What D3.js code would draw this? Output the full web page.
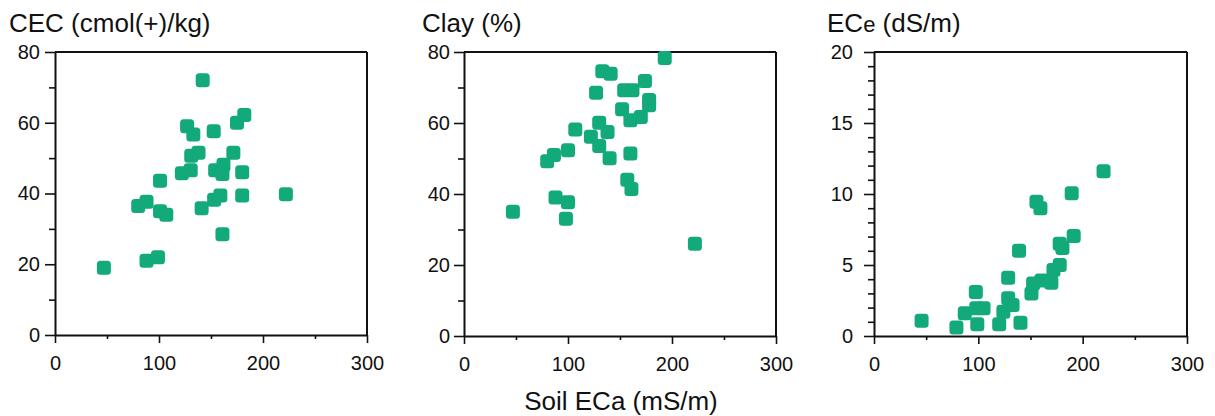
<!DOCTYPE html>
<html>
<head>
<meta charset="utf-8">
<script src="https://cdn.jsdelivr.net/npm/d3@7"></script>
<style>
  body { margin: 0; background: #fff; }
  text { font-family: "Liberation Sans", Arial, sans-serif; fill: #111; }
</style>
</head>
<body>
<svg id="chart"></svg>
<script>
// values
var cecEca = [47, 88, 99, 80, 88, 101, 107, 101, 122, 130.5, 131, 138, 127, 133, 142, 141, 153, 159, 152.6, 154, 162, 161, 171.5, 175, 182, 180, 180, 161, 222];
var cecValues = [19, 21, 22, 36.5, 37.7, 35, 34, 43.6, 45.7, 46.6, 50.7, 51.5, 59, 56.7, 72, 35.8, 38.2, 39.4, 57.6, 46.6, 48.1, 45.5, 51.5, 60, 62.2, 46, 39.4, 28.5, 39.8];

var clayEca = [47, 88, 100, 98, 80, 86.5, 100, 107, 122, 130, 130, 138, 140, 127, 133, 141, 152, 154, 162, 160, 170, 174, 178, 178, 193, 160, 157, 161, 222];
var clayValues = [35, 39, 37.7, 33, 49.2, 51, 52.3, 58.2, 56.1, 53.5, 60.1, 57.5, 50.1, 68.5, 74.6, 73.9, 63.9, 69.2, 69.2, 60.8, 61.7, 71.8, 66.5, 65, 78.3, 51.4, 44, 41.4, 26];

var eceEca = [45.6, 79, 87, 97.6, 98, 105, 99, 120, 124, 128.6, 132.8, 128.6, 139, 140.4, 150.9, 152.5, 160.5, 170, 172, 178, 155.7, 159.5, 178, 180.6, 191.4, 189.5, 220];
var eceValues = [1.08, 0.6, 1.6, 3.1, 1.95, 1.95, 0.82, 0.82, 1.7, 2.65, 2.18, 4.1, 6, 0.93, 3.0, 3.7, 3.9, 3.75, 4.65, 5, 9.46, 9.0, 6.5, 6.2, 7.05, 10.05, 11.6];

var xTicks = [0, 100, 200, 300];
var xMinor = [50, 150, 250];
var pctTicks = [0, 20, 40, 60, 80];
var pctMinor = [10, 30, 50, 70];
var eceTicks = [0, 5, 10, 15, 20];
var eceMinor = [1, 2, 3, 4, 6, 7, 8, 9, 11, 12, 13, 14, 16, 17, 18, 19];

var W = 1215, H = 416;
var green = "#12a97b";
var mark = 14;

var svg = d3.select("#chart").attr("width", W).attr("height", H);

function panel(opt) {
    var g = svg.append("g");
    var x = d3.scaleLinear().domain([0, 300]).range([opt.left, opt.right]);
    var y = d3.scaleLinear().domain([0, opt.ymax]).range([opt.bottom, opt.top]);

    // frame: top and right borders
    g.append("line")
        .attr("x1", opt.left).attr("x2", opt.right)
        .attr("y1", opt.top).attr("y2", opt.top)
        .attr("stroke", "#111").attr("stroke-width", 2);
    g.append("line")
        .attr("x1", opt.right).attr("x2", opt.right)
        .attr("y1", opt.top).attr("y2", opt.bottom)
        .attr("stroke", "#111").attr("stroke-width", 2);

    // minor ticks
    g.append("g")
        .attr("transform", "translate(0," + opt.bottom + ")")
        .call(d3.axisBottom(x).tickValues(xMinor).tickSize(4).tickSizeOuter(0).tickFormat(""))
        .call(s => s.select(".domain").remove());
    g.append("g")
        .attr("transform", "translate(" + opt.left + ",0)")
        .call(d3.axisLeft(y).tickValues(opt.minor).tickSize(6).tickSizeOuter(0).tickFormat(""))
        .call(s => s.select(".domain").remove());

    // major axes
    g.append("g")
        .attr("transform", "translate(0," + opt.bottom + ")")
        .call(d3.axisBottom(x).tickValues(xTicks).tickSize(8).tickSizeOuter(0).tickPadding(13));
    g.append("g")
        .attr("transform", "translate(" + opt.left + ",0)")
        .call(d3.axisLeft(y).tickValues(opt.ticks).tickSize(10).tickSizeOuter(0).tickPadding(opt.pad));

    g.selectAll(".tick line").attr("stroke", "#111").attr("stroke-width", 1.6);
    g.selectAll(".domain").attr("stroke", "#111").attr("stroke-width", 2);
    g.selectAll(".tick text")
        .style("font-size", "20px")
        .style("font-family", "'Liberation Sans', Arial, sans-serif")
        .attr("fill", "#111");

    // points
    g.selectAll("rect.pt")
        .data(opt.xs.map((d, i) => [d, opt.ys[i]]))
        .enter()
        .append("rect")
        .attr("class", "pt")
        .attr("x", d => x(d[0]) - mark / 2)
        .attr("y", d => y(d[1]) - mark / 2)
        .attr("width", mark)
        .attr("height", mark)
        .attr("rx", 3.5)
        .attr("fill", green);

    // title
    var t = svg.append("text")
        .attr("x", opt.titleX)
        .attr("y", 32)
        .style("font-size", "26px");
    opt.title(t);
}

panel({
    left: 55, right: 367, top: 52, bottom: 335,
    ymax: 80, ticks: pctTicks, minor: pctMinor, pad: 5,
    xs: cecEca, ys: cecValues, titleX: 9,
    title: t => t.text("CEC (cmol(+)/kg)")
});

panel({
    left: 464, right: 776, top: 52, bottom: 336,
    ymax: 80, ticks: pctTicks, minor: pctMinor, pad: 4,
    xs: clayEca, ys: clayValues, titleX: 422,
    title: t => t.text("Clay (%)")
});

panel({
    left: 874, right: 1187, top: 52, bottom: 336,
    ymax: 20, ticks: eceTicks, minor: eceMinor, pad: 11,
    xs: eceEca, ys: eceValues, titleX: 827,
    title: t => {
        t.append("tspan").text("EC");
        t.append("tspan").style("font-size", "22px").text("e");
        t.append("tspan").text(" (dS/m)");
    }
});

// shared x axis label
svg.append("text")
    .attr("x", 621)
    .attr("y", 410)
    .attr("text-anchor", "middle")
    .style("font-size", "26px")
    .text("Soil ECa (mS/m)");
</script>
</body>
</html>
